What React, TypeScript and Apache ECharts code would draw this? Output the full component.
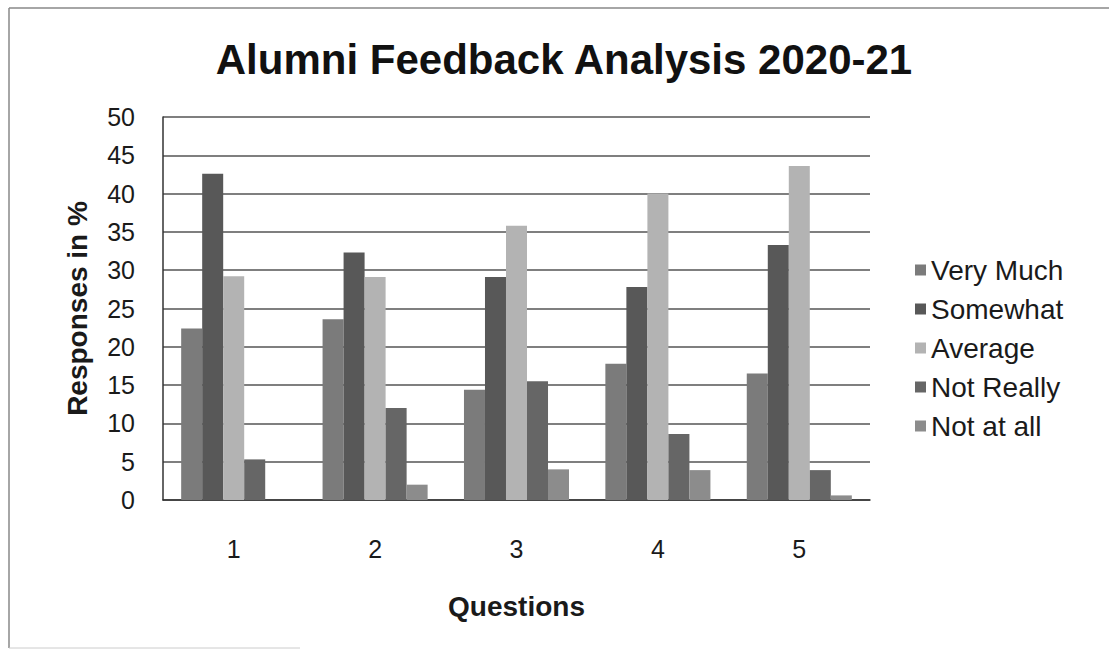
import React, { useEffect, useRef } from "react";
import * as echarts from "echarts";

const questions = ["1", "2", "3", "4", "5"];
const seriesNames = ["Very Much", "Somewhat", "Average", "Not Really", "Not at all"];
const veryMuch = [22.4, 23.6, 14.4, 17.8, 16.5];
const somewhat = [42.6, 32.3, 29.1, 27.8, 33.3];
const average = [29.2, 29.1, 35.8, 40.0, 43.6];
const notReally = [5.3, 12.0, 15.5, 8.6, 3.9];
const notAtAll = [0, 2.0, 4.0, 3.9, 0.6];
const seriesColors = ["#7b7b7b", "#585858", "#b3b3b3", "#666666", "#8c8c8c"];

export default function App() {
  const ref = useRef<HTMLDivElement>(null);
  useEffect(() => {
    if (!ref.current) return;
    const chart = echarts.init(ref.current, null, { renderer: "svg" });
    const values = [veryMuch, somewhat, average, notReally, notAtAll];
    const font = "'Liberation Sans', Arial, sans-serif";
    chart.setOption({
      animation: false,
      backgroundColor: "#ffffff",
      title: {
        text: "Alumni Feedback Analysis 2020-21",
        left: 559,
        textAlign: "center",
        top: 33,
        textStyle: { fontFamily: font, fontSize: 42, fontWeight: "bold", color: "#111" },
      },
      legend: {
        orient: "vertical",
        left: 910,
        top: 250,
        itemWidth: 11,
        itemHeight: 11,
        itemGap: 9,
        icon: "rect",
        textStyle: { fontFamily: font, fontSize: 28, color: "#1a1a1a", lineHeight: 30 },
        data: seriesNames,
      },
      grid: { left: 163, right: 239, top: 117, bottom: 156 },
      xAxis: {
        type: "category",
        data: questions,
        name: "Questions",
        nameLocation: "middle",
        nameGap: 92,
        nameTextStyle: { fontFamily: font, fontSize: 28, fontWeight: "bold", color: "#1a1a1a" },
        axisLine: { lineStyle: { color: "#333", width: 1.5 } },
        axisTick: { show: false },
        axisLabel: { fontFamily: font, fontSize: 25, color: "#1a1a1a", margin: 36 },
      },
      yAxis: {
        type: "value",
        min: 0,
        max: 50,
        interval: 5,
        name: "Responses in %",
        nameLocation: "middle",
        nameGap: 72,
        nameTextStyle: { fontFamily: font, fontSize: 28, fontWeight: "bold", color: "#1a1a1a" },
        axisLine: { show: true, lineStyle: { color: "#333", width: 1.5 } },
        axisTick: { show: false },
        axisLabel: { fontFamily: font, fontSize: 25, color: "#1a1a1a", margin: 28 },
        splitLine: { lineStyle: { color: "#555", width: 1.5 } },
      },
      series: seriesNames.map((name, i) => ({
        name,
        type: "bar",
        data: values[i],
        barGap: "0%",
        barCategoryGap: "25.7%",
        itemStyle: { color: seriesColors[i] },
      })),
      graphic: [
        { type: "line", shape: { x1: 9, y1: 8, x2: 1109, y2: 8 }, style: { stroke: "#888", lineWidth: 1.5 } },
        { type: "line", shape: { x1: 9, y1: 8, x2: 9, y2: 648 }, style: { stroke: "#888", lineWidth: 1.5 } },
        { type: "line", shape: { x1: 9, y1: 648, x2: 300, y2: 648 }, style: { stroke: "#ccc", lineWidth: 1 } },
      ],
    });
    return () => chart.dispose();
  }, []);
  return <div ref={ref} style={{ width: 1109, height: 656, position: "absolute", left: 0, top: 0 }} />;
}
